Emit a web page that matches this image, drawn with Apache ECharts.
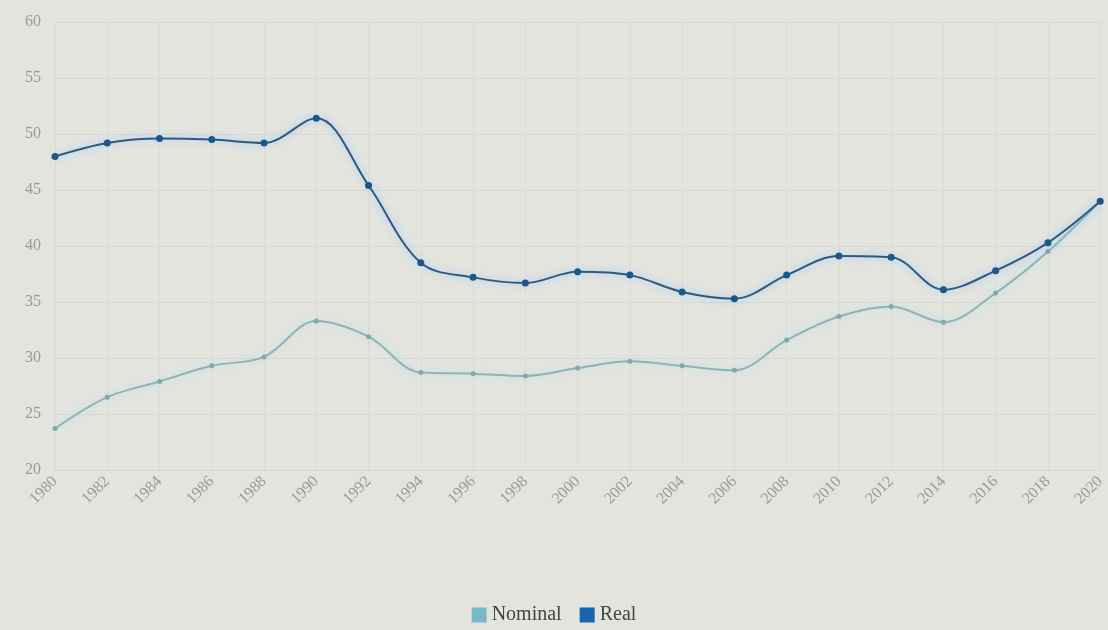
<!DOCTYPE html>
<html>
<head>
<meta charset="utf-8">
<script src="https://cdn.jsdelivr.net/npm/echarts@6/dist/echarts.min.js"></script>
<style>
  html, body { margin: 0; padding: 0; background: #e4e4df; }
  #main { width: 1108px; height: 630px; }
</style>
</head>
<body>
<div id="main"></div>
<script>
var years = ['1980', '1982', '1984', '1986', '1988', '1990', '1992', '1994', '1996', '1998', '2000',
  '2002', '2004', '2006', '2008', '2010', '2012', '2014', '2016', '2018', '2020'];
var nominal = [23.7, 26.5, 27.9, 29.3, 30.1, 33.3, 31.9, 28.7, 28.6, 28.4, 29.1,
  29.7, 29.3, 28.9, 31.6, 33.7, 34.6, 33.2, 35.8, 39.5, 44.0];
var real = [48.0, 49.2, 49.6, 49.5, 49.2, 51.4, 45.4, 38.5, 37.2, 36.7, 37.7,
  37.4, 35.9, 35.3, 37.4, 39.1, 39.0, 36.1, 37.8, 40.3, 44.0];
var yTicks = [20, 60, 5];

var chart = echarts.init(document.getElementById('main'));

// 系列样式
function lineSeries(name, data, lineColor, dotColor, size, glow) {
  return {
    name: name,
    type: 'line',
    smooth: 0.35,
    data: data,
    symbol: 'circle',
    symbolSize: size,
    itemStyle: { color: dotColor },
    lineStyle: {
      color: lineColor,
      width: 2,
      shadowColor: glow,
      shadowBlur: 8
    }
  };
}

chart.setOption({
  backgroundColor: '#e4e4df',
  textStyle: { fontFamily: 'Liberation Serif' },
  color: ['#7ab8c8', '#1565b0'],
  grid: { left: 55, right: 1, top: 22, bottom: 160 },
  legend: {
    bottom: 0,
    left: 'center',
    icon: 'rect',
    itemWidth: 15,
    itemHeight: 15,
    itemGap: 18,
    textStyle: { fontSize: 20, color: '#444', fontFamily: 'Liberation Serif' },
    data: [
      { name: 'Nominal', itemStyle: { color: '#7ab8c8' } },
      { name: 'Real', itemStyle: { color: '#1565b0' } }
    ]
  },
  xAxis: {
    type: 'category',
    data: years,
    boundaryGap: false,
    axisLine: { show: false },
    axisTick: { show: false },
    splitLine: { show: true, lineStyle: { color: '#dcdcd6' } },
    axisLabel: { rotate: 45, color: '#9a9a96', fontSize: 16, margin: 9, interval: 0 }
  },
  yAxis: {
    type: 'value',
    min: yTicks[0],
    max: yTicks[1],
    interval: yTicks[2],
    axisLine: { show: false },
    axisTick: { show: false },
    splitLine: { lineStyle: { color: '#d8d8d2' } },
    axisLabel: { color: '#9a9a96', fontSize: 16, margin: 14 }
  },
  series: [
    lineSeries('Nominal', nominal, '#8fb3b5', '#7ea9ae', 5, 'rgba(170,225,235,0.9)'),
    lineSeries('Real', real, '#2f5a80', '#1b568e', 7, 'rgba(130,195,245,1)')
  ]
});
</script>
</body>
</html>
